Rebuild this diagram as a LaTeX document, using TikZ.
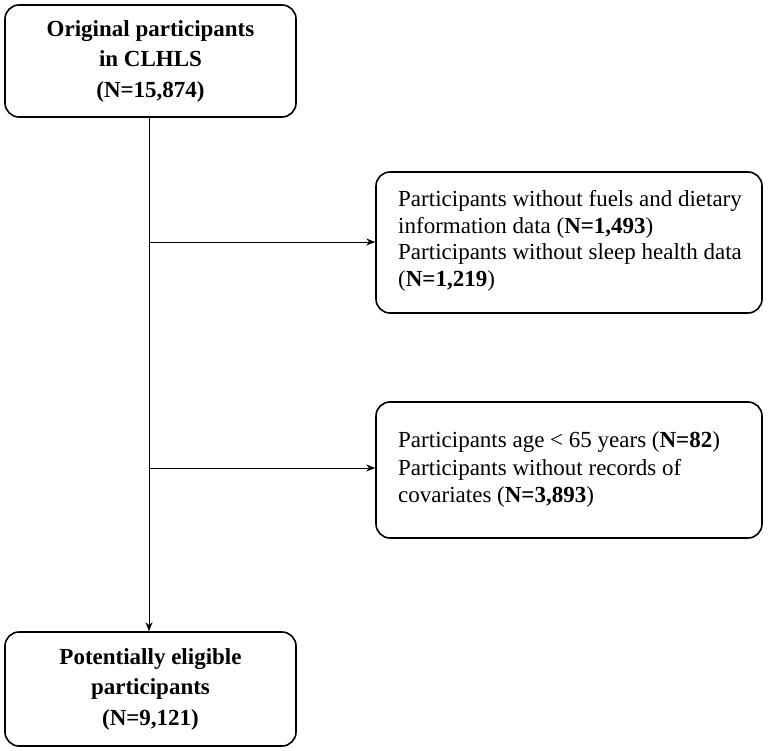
\documentclass[tikz,border=0pt]{standalone}
\usepackage{fontspec}
\setmainfont{Liberation Serif}
\usetikzlibrary{arrows.meta}
\begin{document}
\begin{tikzpicture}[x=1pt,y=-1pt,
  box/.style={draw,line width=1.6pt,rounded corners=14pt,inner sep=0pt},
  ln/.style={line width=0.9pt},
  arr/.style={ln,-{Stealth[length=9pt,width=7pt]}}]
\useasboundingbox (0,0) rectangle (768,751);
\node[box,minimum width=291pt,minimum height=112pt,align=center,font=\fontsize{23}{30.5}\selectfont\bfseries] (a) at (150.5,61) {Original participants\\in CLHLS\\(N=15,874)};
\node[box,minimum width=291pt,minimum height=114pt,align=center,font=\fontsize{23}{30.5}\selectfont\bfseries] (d) at (150.5,689) {Potentially eligible\\participants\\(N=9,121)};
\node[box,minimum width=386pt,minimum height=141pt] (b) at (569,242.5) {};
\node[anchor=north west,align=left,font=\fontsize{23}{26.5}\selectfont,inner sep=0pt] (bt) at (398,190.5) {Participants without fuels and dietary\\information data (\textbf{N=1,493})\\Participants without sleep health data\\(\textbf{N=1,219})};
\node[box,minimum width=386pt,minimum height=136pt] (c) at (569,470) {};
\node[anchor=north west,align=left,font=\fontsize{23}{27.5}\selectfont,inner sep=0pt] (ct) at (398,431.5) {Participants age < 65 years (\textbf{N=82})\\Participants without records of\\covariates (\textbf{N=3,893})};
\coordinate (j1) at (149,242);
\coordinate (j2) at (149,468);
\draw[arr] (a.south -| j1) -- (d.north -| j1);
\draw[arr] (j1) -- (j1 -| b.west);
\draw[arr] (j2) -- (j2 -| c.west);
\end{tikzpicture}
\end{document}
